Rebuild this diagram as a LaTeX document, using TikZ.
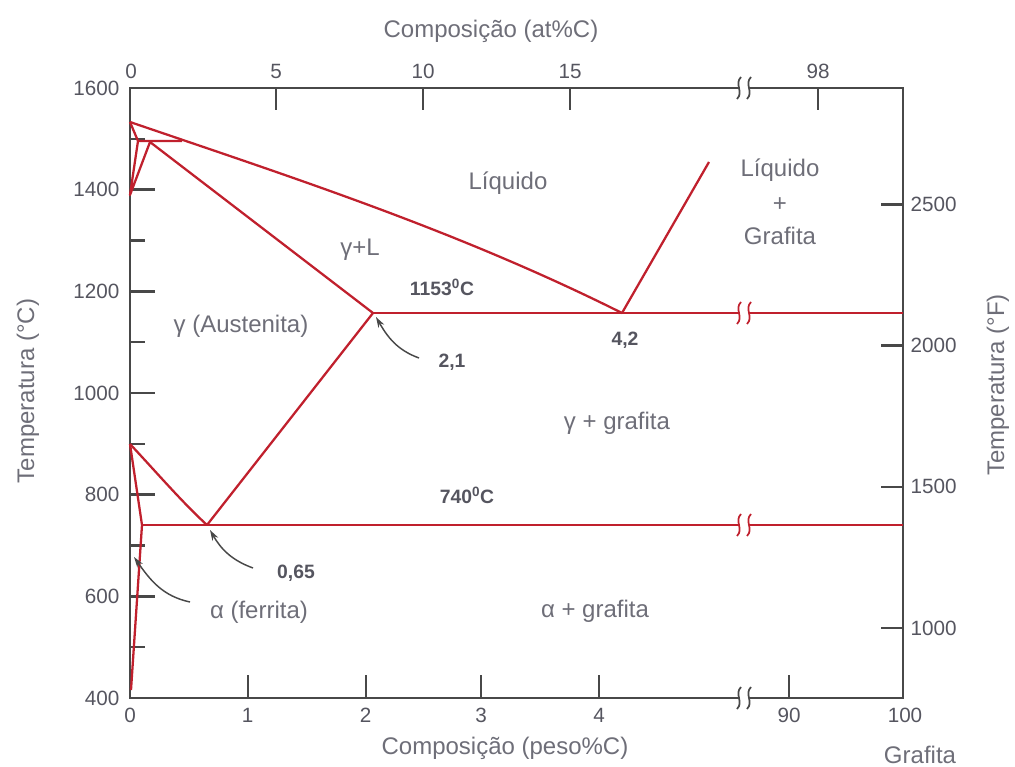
\documentclass[tikz,border=0pt]{standalone}
\usepackage{fontspec}
\setmainfont{Liberation Sans}
\definecolor{phasered}{RGB}{192,32,45}
\definecolor{axisgray}{RGB}{72,72,72}
\definecolor{tickgray}{RGB}{85,85,95}
\definecolor{labelgray}{RGB}{110,110,120}
\usetikzlibrary{arrows.meta}

\begin{document}
\begin{tikzpicture}[x=0.75pt, y=-0.75pt,
    axis/.style={line width=2pt, color=axisgray},
    tick/.style={line width=1.8pt, color=axisgray},
    phase/.style={line width=1.7pt, color=phasered, line join=round},
    pointer/.style={-{Stealth[length=8pt, width=5pt]}, line width=1.1pt, color=axisgray},
    ticklabel/.style={font=\fontsize{15.5}{17}\selectfont, color=tickgray, inner sep=1pt},
    region/.style={font=\fontsize{18}{20}\selectfont, color=labelgray, inner sep=1pt},
    point/.style={font=\bfseries\fontsize{14.5}{16}\selectfont, color=tickgray, inner sep=1pt},
    axistitle/.style={font=\fontsize{18}{20}\selectfont, color=labelgray, inner sep=1pt}
  ]
  \useasboundingbox (0,0) rectangle (1015,767);

  % frame
  \draw[axis] (130,88) rectangle (903,698);

  % left axis (degC)
  \foreach \t in {1400,1200,...,600}
    \draw[tick] (130,{698-0.5083*(\t-400)}) -- ++(25,0);
  \foreach \t in {1500,1300,...,500}
    \draw[tick] (130,{698-0.5083*(\t-400)}) -- ++(15,0);
  \foreach \t in {1600,1400,...,400}
    \node[ticklabel, anchor=east] (tc\t) at (121,{698-0.5083*(\t-400)}) {\t};

  % right axis (degF)
  \foreach \f in {1000,1500,2000,2500} {
    \draw[tick] (903,{698-0.5083*((\f-32)*5/9-400)}) -- ++(-22,0);
    \node[ticklabel, anchor=west] (tf\f) at (909,{698-0.5083*((\f-32)*5/9-400)}) {\f};
  }

  % bottom axis (peso%C)
  \foreach \x/\v in {247.7/1, 365.7/2, 481/3, 599/4, 789/90}
    \draw[tick] (\x,698) -- ++(0,-23);
  \foreach \x/\v in {130/0, 247.7/1, 365.7/2, 481/3, 599/4, 789/90, 905/100}
    \node[ticklabel] (tw\v) at (\x,715) {\v};

  % top axis (at%C)
  \foreach \x/\v in {276/5, 423/10, 570/15, 818/98}
    \draw[tick] (\x,88) -- ++(0,22);
  \foreach \x/\v in {131/0, 276/5, 423/10, 570/15, 818/98}
    \node[ticklabel] (ta\v) at (\x,71) {\v};

  % phase points
  \coordinate (feM) at (130,122);
  \coordinate (pLiq) at (182,141);
  \coordinate (pDel) at (138,141);
  \coordinate (pPer) at (150,142);
  \coordinate (feDG) at (130,195);
  \coordinate (gsol) at (373,313);
  \coordinate (eut) at (622,313);
  \coordinate (eutEnd) at (903,313);
  \coordinate (liqTop) at (709,162);
  \coordinate (feA3) at (130,444);
  \coordinate (eutd) at (207,525);
  \coordinate (aMax) at (142,525);
  \coordinate (aLow) at (131,690);
  \coordinate (eutdEnd) at (903,525);

  % phase boundaries
  \draw[phase] (feM) .. controls (294,178) and (458,231) .. (eut);
  \draw[phase] (feM) -- (pDel) -- (pLiq);
  \draw[phase] (pDel) -- (feDG) -- (pPer) -- (gsol);
  \draw[phase] (gsol) -- (eutEnd);
  \draw[phase] (eut) -- (liqTop);
  \draw[phase] (feA3) .. controls (158,474) and (182,502) .. (eutd);
  \draw[phase] (eutd) -- (gsol);
  \draw[phase] (aMax) -- (eutdEnd);
  \draw[phase] (feA3) -- (aMax) -- (aLow);

  % breaks
  \foreach \y/\c in {88/axisgray, 698/axisgray, 313/phasered, 525/phasered} {
    \fill[white] (739,\y-4) rectangle (749,\y+4);
    \draw[line width=1.3pt, color=\c] (741,\y-11) .. controls (734,\y-4) and (744,\y+4) .. (737,\y+11);
    \draw[line width=1.3pt, color=\c] (751,\y-11) .. controls (744,\y-4) and (754,\y+4) .. (747,\y+11);
  }

  % region labels
  \node[region] (liq) at (508,183) {Líquido};
  \node[region, align=center] (liqgr) at (780,202) {Líquido\\[6pt]+\\[5pt]Grafita};
  \node[region] (gl) at (360,250) {γ+L};
  \node[region] (aust) at (241,326) {γ (Austenita)};
  \node[region] (ggr) at (617,423) {γ + grafita};
  \node[region] (ferr) at (259,612) {α (ferrita)};
  \node[region] (agr) at (595,611) {α + grafita};

  % point labels
  \node[point] (t1153) at (442,287) {1153\textsuperscript{0}C};
  \node[point] (t740) at (467,495) {740\textsuperscript{0}C};
  \node[point] (c21) at (452,362) {2,1};
  \node[point] (c42) at (625,340) {4,2};
  \node[point] (c065) at (296,573) {0,65};

  % pointers
  \coordinate (p21s) at (419,358);
  \coordinate (p21e) at (376,317);
  \coordinate (p065s) at (253,568);
  \coordinate (p065e) at (210,530);
  \coordinate (pfes) at (190,602);
  \coordinate (pfee) at (134,557);
  \draw[pointer] (p21s) to[out=160, in=-60] (p21e);
  \draw[pointer] (p065s) to[out=160, in=-60] (p065e);
  \draw[pointer] (pfes) to[out=168, in=-55] (pfee);

  % axis titles
  \node[axistitle] (xtop) at (491,31) {Composição (at\%C)};
  \node[axistitle] (xbot) at (505,748) {Composição (peso\%C)};
  \node[axistitle] (xgr) at (920,755) {Grafita};
  \node[axistitle, rotate=90] (ylft) at (28,391) {Temperatura (°C)};
  \node[axistitle, rotate=90] (yrgt) at (998,385) {Temperatura (°F)};

\end{tikzpicture}
\end{document}
